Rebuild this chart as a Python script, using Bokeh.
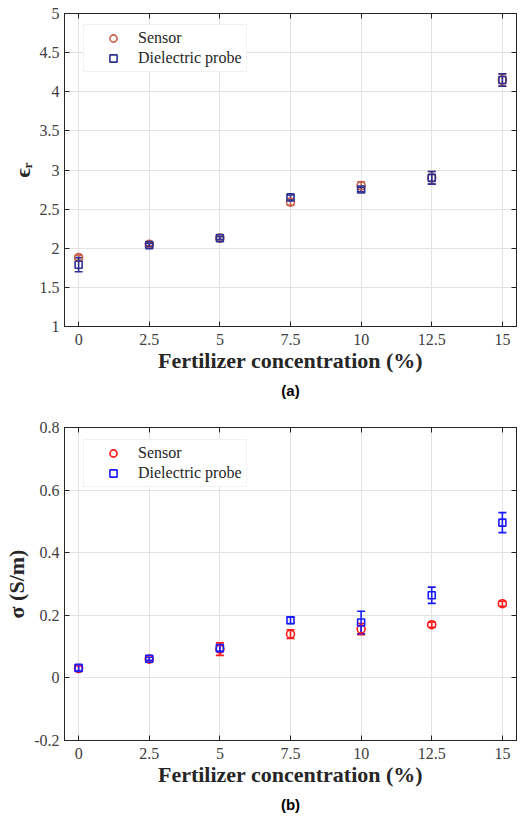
from bokeh.plotting import figure
from bokeh.models import (Whisker, ColumnDataSource, LinearAxis, FixedTicker, Legend,
                          LegendItem, Title, Range1d, TeeHead)
from bokeh.layouts import column
from bokeh.embed import file_html
from bokeh.resources import INLINE

# ---------------- data ----------------
conc = [0, 2.5, 5, 7.5, 10, 12.5, 15]
x_ticks = [0, 2.5, 5, 7.5, 10, 12.5, 15]
x_tick_labels = ["0", "2.5", "5", "7.5", "10", "12.5", "15"]

eps_ticks = [1, 1.5, 2, 2.5, 3, 3.5, 4, 4.5, 5]
eps_tick_labels = ["1", "1.5", "2", "2.5", "3", "3.5", "4", "4.5", "5"]
eps_sensor = [1.88, 2.05, 2.13, 2.59, 2.80, 2.90, 4.15]
eps_sensor_err = [0.03, 0.02, 0.02, 0.04, 0.05, 0.08, 0.07]
eps_probe = [1.79, 2.04, 2.13, 2.65, 2.75, 2.90, 4.15]
eps_probe_err = [0.09, 0.02, 0.02, 0.03, 0.03, 0.08, 0.08]

sig_ticks = [-0.2, 0, 0.2, 0.4, 0.6, 0.8]
sig_tick_labels = ["-0.2", "0", "0.2", "0.4", "0.6", "0.8"]
sig_sensor = [0.030, 0.060, 0.092, 0.140, 0.156, 0.170, 0.237]
sig_sensor_err = [0.008, 0.006, 0.020, 0.014, 0.018, 0.008, 0.008]
sig_probe = [0.032, 0.061, 0.095, 0.184, 0.177, 0.264, 0.496]
sig_probe_err = [0.010, 0.005, 0.010, 0.010, 0.036, 0.026, 0.032]

SERIF = "Liberation Serif"
SANS = "Liberation Sans"


def make_panel(ys, yerr_s, yp, yerr_p, yticks, ylabels, yrange, ylabel, caption,
               c_sensor, c_probe, height, border_top, border_bottom, frame_h, leg_top):
    p = figure(width=520, height=height, output_backend="svg", toolbar_location=None,
               x_range=Range1d(-0.5, 15.5), y_range=Range1d(*yrange),
               min_border_left=64, min_border_right=4, min_border_top=border_top,
               min_border_bottom=border_bottom)
    p.outline_line_color = "#262626"
    p.outline_line_width = 1
    p.background_fill_color = "white"
    p.border_fill_color = "white"

    for ax in (p.xaxis[0], p.yaxis[0]):
        ax.axis_line_color = "#262626"
        ax.major_tick_line_color = "#262626"
        ax.major_tick_in = 5
        ax.major_tick_out = 0
        ax.minor_tick_line_color = None
        ax.major_label_text_font = SERIF
        ax.major_label_text_font_size = "16px"
        ax.major_label_text_color = "#404040"
        ax.axis_label_text_font = SERIF
        ax.axis_label_text_font_style = "bold"
        ax.axis_label_text_font_size = "22px"
        ax.axis_label_text_color = "#262626"

    p.xaxis.ticker = FixedTicker(ticks=x_ticks)
    p.xaxis.major_label_overrides = dict(zip(x_ticks, x_tick_labels))
    p.xaxis.axis_label = "Fertilizer concentration (%)"
    p.xaxis.major_label_standoff = 7
    p.xaxis.axis_label_standoff = 0

    p.yaxis.ticker = FixedTicker(ticks=yticks)
    p.yaxis.major_label_overrides = dict(zip(yticks, ylabels))
    p.yaxis.axis_label = ylabel
    p.yaxis.major_label_standoff = 5
    p.yaxis.axis_label_standoff = 2

    # box ticks on top and right (no labels)
    top = LinearAxis(ticker=FixedTicker(ticks=x_ticks),
                     major_label_overrides={t: "" for t in x_ticks},
                     major_tick_in=5, major_tick_out=0, minor_tick_line_color=None,
                     major_label_standoff=0, axis_line_color="#262626",
                     major_tick_line_color="#262626")
    right = LinearAxis(ticker=FixedTicker(ticks=yticks),
                       major_label_overrides={t: "" for t in yticks},
                       major_tick_in=5, major_tick_out=0, minor_tick_line_color=None,
                       major_label_standoff=0, axis_line_color="#262626",
                       major_tick_line_color="#262626")
    p.add_layout(top, "above")
    p.add_layout(right, "right")

    p.xgrid.ticker = FixedTicker(ticks=x_ticks)
    p.ygrid.ticker = FixedTicker(ticks=yticks)
    p.grid.grid_line_color = "#e3e3e3"
    p.grid.grid_line_width = 1

    src_s = ColumnDataSource(dict(x=conc, y=ys,
                                  lo=[a - b for a, b in zip(ys, yerr_s)],
                                  hi=[a + b for a, b in zip(ys, yerr_s)]))
    src_p = ColumnDataSource(dict(x=conc, y=yp,
                                  lo=[a - b for a, b in zip(yp, yerr_p)],
                                  hi=[a + b for a, b in zip(yp, yerr_p)]))

    for src, col in ((src_s, c_sensor), (src_p, c_probe)):
        w = Whisker(base="x", lower="lo", upper="hi", source=src, line_color=col,
                    line_width=1.6,
                    upper_head=TeeHead(size=8, line_color=col, line_width=1.6),
                    lower_head=TeeHead(size=8, line_color=col, line_width=1.6))
        p.add_layout(w)

    r_s = p.scatter("x", "y", source=src_s, marker="circle", size=8,
                    fill_color=None, line_color=c_sensor, line_width=1.6)
    r_p = p.scatter("x", "y", source=src_p, marker="square", size=7,
                    fill_color=None, line_color=c_probe, line_width=1.6)

    leg_h = 46
    legend = Legend(items=[LegendItem(label="Sensor", renderers=[r_s]),
                           LegendItem(label="Dielectric probe", renderers=[r_p])],
                    location=(19, frame_h - leg_top - leg_h))
    legend.label_text_font = SERIF
    legend.label_text_font_size = "16px"
    legend.label_text_color = "#262626"
    legend.glyph_width = 50
    legend.glyph_height = 18
    legend.label_standoff = 0
    legend.label_height = 18
    legend.spacing = 2
    legend.padding = 4
    legend.margin = 0
    legend.border_line_color = "#e6e6e6"
    legend.border_line_width = 1
    legend.background_fill_color = "white"
    legend.background_fill_alpha = 1.0
    p.add_layout(legend)

    cap = Title(text=caption, align="center", text_font=SANS, text_font_style="bold",
                text_font_size="15px", text_color="black", standoff=9)
    p.add_layout(cap, "below")
    return p


p1 = make_panel(eps_sensor, eps_sensor_err, eps_probe, eps_probe_err, eps_ticks,
                eps_tick_labels, (1, 5), "ϵᵣ", "(a)", "#c8604a", "#2e3192",
                height=405, border_top=13, border_bottom=79, frame_h=313, leg_top=13)
p2 = make_panel(sig_sensor, sig_sensor_err, sig_probe, sig_probe_err, sig_ticks,
                sig_tick_labels, (-0.2, 0.8), "σ (S/m)", "(b)", "#ff1a1a", "#1a1aff",
                height=412, border_top=22, border_bottom=76, frame_h=314, leg_top=15)

layout = column(p1, p2, spacing=0)
open("out.html", "w").write(file_html(layout, INLINE))
